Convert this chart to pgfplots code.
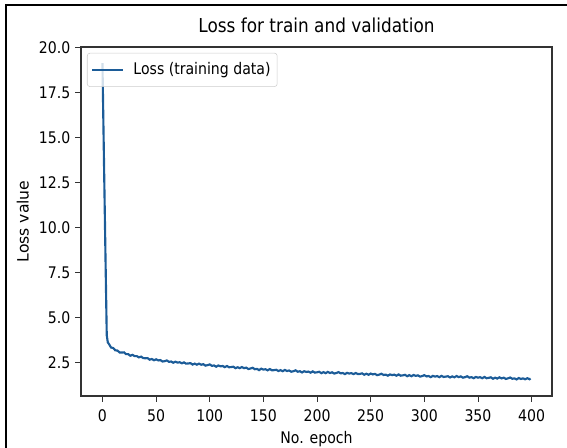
\documentclass[border=0pt]{standalone}
\usepackage{fontspec}
\setmainfont{DejaVu Sans}[FakeStretch=0.88]
\newfontfamily\plainfont{DejaVu Sans}
\usepackage{pgfplots}
\pgfplotsset{compat=1.18}
\definecolor{lossblue}{RGB}{28,92,152}
\newcommand{\tickfont}{\fontsize{12}{14}\selectfont}
\newcommand{\titlefont}{\fontsize{14.4}{17}\selectfont}

\begin{document}
\begin{tikzpicture}
\path[use as bounding box] (0,0) rectangle (425.25pt,336pt);
\draw[line width=1.2pt] (4.5pt,0) -- (4.5pt,332.25pt) -- (425.25pt,332.25pt);
\begin{axis}[
  at={(60.75pt,39pt)}, anchor=south west,
  width=353.25pt, height=261.75pt, scale only axis,
  xmin=-20, xmax=419, ymin=0.62, ymax=20.05,
  xtick={0,50,...,400},
  ytick={2.5,5,7.5,10,12.5,15,17.5,20},
  yticklabel style={/pgf/number format/.cd, fixed, fixed zerofill, precision=1},
  xticklabel style={yshift=-2.5pt},
  /pgf/number format/assume math mode=true,
  tick align=outside, major tick length=4.5pt,
  xtick pos=bottom, ytick pos=left,
  every tick/.style={black!80, line width=0.7pt},
  axis line style={black!80, line width=0.9pt},
  ticklabel style={font=\tickfont},
  title={Loss for train and validation},
  title style={font=\titlefont, at={(0.5,1.020)}, anchor=base},
  xlabel={No. epoch},
  xlabel style={font=\tickfont, at={(0.5,-0.1347)}, anchor=base},
  ylabel={Loss value},
  ylabel style={font=\plainfont\fontsize{11.7}{14}\selectfont, at={(-0.1238,0.5)}, anchor=center},
  legend style={at={(0.0127,0.983)}, anchor=north west, font=\tickfont,
    draw=black!20, rounded corners=2pt, fill=white, fill opacity=0.8, text opacity=1,
    inner xsep=3pt, inner ysep=5.2pt},
  legend cell align=left,
  legend image code/.code={\draw[#1, line width=1.7pt] (0pt,0pt) -- (23pt,0pt); \path (28pt,0pt);},
]
\addplot[lossblue, line width=1.6pt] coordinates {
(0,19.15) (1,15.3) (2,11.5) (3,7.7) (4,4.0) (5,3.6)
(6,3.52) (8,3.32) (10,3.29) (12,3.16) (14,3.15) (16,3.04) (18,3.04) (20,3.05)
(22,2.95) (24,2.95) (26,2.86) (28,2.91) (30,2.84) (32,2.84) (34,2.77) (36,2.81)
(38,2.73) (40,2.72) (42,2.73) (44,2.64) (46,2.68) (48,2.61) (50,2.66) (52,2.60)
(54,2.62) (56,2.54) (58,2.56) (60,2.60) (62,2.52) (64,2.54) (66,2.47) (68,2.53)
(70,2.48) (72,2.50) (74,2.44) (76,2.49) (78,2.42) (80,2.43) (82,2.45) (84,2.37)
(86,2.42) (88,2.36) (90,2.42) (92,2.36) (94,2.39) (96,2.31) (98,2.34) (100,2.38)
(102,2.30) (104,2.32) (106,2.25) (108,2.32) (110,2.27) (112,2.29) (114,2.23) (116,2.29)
(118,2.22) (120,2.23) (122,2.25) (124,2.17) (126,2.22) (128,2.17) (130,2.23) (132,2.17)
(134,2.20) (136,2.12) (138,2.15) (140,2.19) (142,2.11) (144,2.13) (146,2.06) (148,2.14)
(150,2.09) (152,2.11) (154,2.05) (156,2.12) (158,2.05) (160,2.06) (162,2.08) (164,2.01)
(166,2.06) (168,2.00) (170,2.07) (172,2.01) (174,2.04) (176,1.97) (178,2.00) (180,2.05)
(182,1.97) (184,2.00) (186,1.93) (188,2.00) (190,1.96) (192,1.98) (194,1.92) (196,1.99)
(198,1.92) (200,1.94) (202,1.97) (204,1.89) (206,1.95) (208,1.89) (210,1.96) (212,1.90)
(214,1.94) (216,1.87) (218,1.90) (220,1.95) (222,1.88) (224,1.90) (226,1.84) (228,1.91)
(230,1.87) (232,1.89) (234,1.84) (236,1.90) (238,1.84) (240,1.85) (242,1.88) (244,1.80)
(246,1.86) (248,1.80) (250,1.87) (252,1.82) (254,1.85) (256,1.78) (258,1.81) (260,1.86)
(262,1.79) (264,1.81) (266,1.75) (268,1.82) (270,1.78) (272,1.81) (274,1.75) (276,1.82)
(278,1.75) (280,1.77) (282,1.80) (284,1.72) (286,1.78) (288,1.72) (290,1.79) (292,1.74)
(294,1.77) (296,1.70) (298,1.73) (300,1.78) (302,1.71) (304,1.73) (306,1.67) (308,1.74)
(310,1.70) (312,1.73) (314,1.67) (316,1.74) (318,1.68) (320,1.70) (322,1.72) (324,1.65)
(326,1.71) (328,1.66) (330,1.73) (332,1.67) (334,1.71) (336,1.64) (338,1.67) (340,1.72)
(342,1.64) (344,1.67) (346,1.61) (348,1.68) (350,1.64) (352,1.67) (354,1.61) (356,1.68)
(358,1.61) (360,1.63) (362,1.66) (364,1.58) (366,1.64) (368,1.59) (370,1.66) (372,1.60)
(374,1.64) (376,1.57) (378,1.60) (380,1.65) (382,1.58) (384,1.60) (386,1.54) (388,1.62)
(390,1.57) (392,1.60) (394,1.55) (396,1.61) (398,1.55) (399,1.59)
};
\addlegendentry{Loss (training data)}
\end{axis}
\end{tikzpicture}
\end{document}
